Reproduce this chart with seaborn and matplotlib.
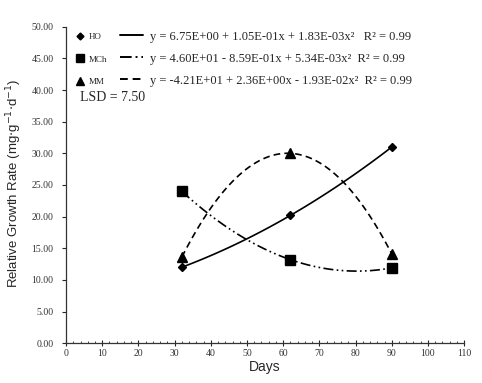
import matplotlib
matplotlib.use('Agg')
import numpy as np
import pandas as pd
import seaborn as sns
import matplotlib.pyplot as plt
from matplotlib.lines import Line2D
from matplotlib.ticker import MultipleLocator

# data
days = [32, 62, 90]
ho = [12.0, 20.2, 31.0]
mch = [24.0, 13.2, 11.9]
mm = [13.6, 30.0, 14.1]

series_names = ['HO', 'MCh', 'MM']
equations = ['y = 6.75E+00 + 1.05E-01x + 1.83E-03x²   R² = 0.99',
             'y = 4.60E+01 - 8.59E-01x + 5.34E-03x²  R² = 0.99',
             'y = -4.21E+01 + 2.36E+00x - 1.93E-02x²  R² = 0.99']
lsd_text = 'LSD = 7.50'

df = pd.DataFrame({'Days': days * 3,
                   'RGR': ho + mch + mm,
                   'group': [n for n in series_names for _ in days]})

sns.set_style('white')
serif = ['Liberation Serif', 'DejaVu Serif']
sans_narrow = ['Liberation Sans Narrow', 'Liberation Sans', 'DejaVu Sans']

markers = {'HO': 'D', 'MCh': 's', 'MM': '^'}
msizes = {'HO': 4.5, 'MCh': 7, 'MM': 7}
lstyles = {'HO': '-', 'MCh': (0, (6, 2, 1, 2, 1, 2)), 'MM': (0, (4, 2.5))}

fig = plt.figure(figsize=(4.82, 3.83), dpi=100)
ax = fig.add_axes([0.137, 0.104, 0.826, 0.826])

for name in series_names:
    sub = df[df['group'] == name]
    sns.regplot(data=sub, x='Days', y='RGR', order=2, ci=None, scatter=False, ax=ax,
                line_kws={'color': 'black', 'lw': 1.2, 'linestyle': lstyles[name]})
    ax.plot(sub['Days'], sub['RGR'], linestyle='none', marker=markers[name],
            markersize=msizes[name], color='black', zorder=5)

ax.set_xlim(0, 110)
ax.set_ylim(0, 50)
ax.xaxis.set_major_locator(MultipleLocator(10))
ax.xaxis.set_minor_locator(MultipleLocator(2))
ax.yaxis.set_major_locator(MultipleLocator(5))
ax.set_yticklabels(['%.2f' % v for v in ax.get_yticks()])
ax.tick_params(axis='x', which='major', direction='inout', length=5, width=0.8, labelsize=7, pad=2)
ax.tick_params(axis='x', which='minor', direction='in', length=1.5, width=0.6)
ax.tick_params(axis='y', which='major', direction='out', length=3, width=0.8, labelsize=7, pad=6)
ax.tick_params(bottom=True, left=True, which='both')
for lab in ax.get_xticklabels() + ax.get_yticklabels():
    lab.set_family(serif)
    lab.set_color('#333333')

ax.spines['right'].set_visible(False)
ax.spines['top'].set_visible(False)
for s in ['bottom', 'left']:
    ax.spines[s].set_linewidth(0.9)
    ax.spines[s].set_color('#333333')

ax.set_xlabel('Days', family=sans_narrow, fontsize=10, labelpad=1)
ax.set_ylabel('Relative Growth Rate (mg$\\cdot$g$^{-1}$$\\cdot$d$^{-1}$)', family=sans_narrow,
              fontsize=9.5)
ax.yaxis.set_label_coords(-0.105, 0.505)

# legend part 1: markers with small series names
mk_handles = [Line2D([], [], linestyle='none', marker=markers[n], color='black',
                     markersize=msizes[n] - 1) for n in series_names]
leg1 = ax.legend(mk_handles, series_names, loc='upper left', bbox_to_anchor=(0.026, 0.982),
                 frameon=False, handlelength=0.8, handletextpad=0.6, borderpad=0,
                 borderaxespad=0, labelspacing=1.6, prop={'family': serif, 'size': 6.5})
ax.add_artist(leg1)

# legend part 2: line styles with fitted equations
ln_handles = [Line2D([], [], color='black', lw=1.4, linestyle=lstyles[n]) for n in series_names]
ax.legend(ln_handles, equations, loc='upper left', bbox_to_anchor=(0.136, 0.988),
          frameon=False, handlelength=1.8, handletextpad=0.6, borderpad=0,
          borderaxespad=0, labelspacing=0.8, prop={'family': serif, 'size': 9})

ax.text(0.035, 0.776, lsd_text, transform=ax.transAxes, family=serif, fontsize=10,
        va='center', ha='left')

fig.savefig('out.png', dpi=100)
